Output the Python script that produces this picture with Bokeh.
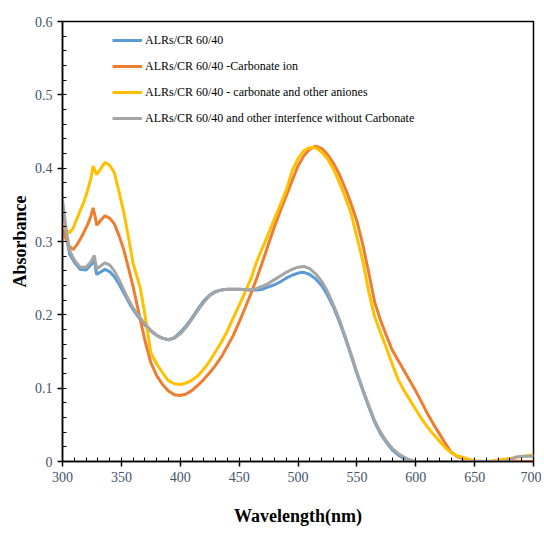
from bokeh.plotting import figure
from bokeh.models import FixedTicker, Legend, LegendItem, Range1d
from bokeh.embed import file_html
from bokeh.resources import INLINE

series_names = [
    "ALRs/CR 60/40",
    "ALRs/CR 60/40 -Carbonate ion",
    "ALRs/CR 60/40 - carbonate and other aniones",
    "ALRs/CR 60/40 and other interfence without Carbonate",
]
series_colors = ["#5B9BD5", "#ED7D31", "#FFC000", "#A5A5A5"]

x_ticks = [300, 350, 400, 450, 500, 550, 600, 650, 700]
y_ticks = [0, 0.1, 0.2, 0.3, 0.4, 0.5, 0.6]
y_tick_labels = ["0", "0.1", "0.2", "0.3", "0.4", "0.5", "0.6"]

wl_blue = [300, 303, 306, 310, 315, 320, 324, 327, 329, 332, 336, 340, 344, 348, 352, 356, 360, 365,
           370, 375, 380, 385, 390, 395, 400, 405, 410, 415, 420, 425, 430, 435, 440, 450, 460, 465,
           470, 475, 480, 485, 490, 495, 500, 505, 510, 515, 520, 525, 530, 535, 540, 545, 550, 555,
           560, 565, 570, 575, 580, 585, 590, 595, 600, 650, 700]
abs_blue = [0.345, 0.310, 0.283, 0.272, 0.262, 0.261, 0.268, 0.274, 0.255, 0.258, 0.262, 0.259, 0.252,
            0.242, 0.230, 0.218, 0.207, 0.196, 0.186, 0.178, 0.172, 0.168, 0.166, 0.169, 0.176, 0.185,
            0.196, 0.208, 0.219, 0.227, 0.232, 0.234, 0.235, 0.235, 0.234, 0.234, 0.235, 0.238, 0.241,
            0.245, 0.250, 0.254, 0.257, 0.258, 0.255, 0.249, 0.240, 0.227, 0.211, 0.191, 0.169, 0.145,
            0.120, 0.097, 0.075, 0.054, 0.038, 0.026, 0.016, 0.009, 0.004, 0.001, 0.0, 0.0, 0.0]

wl_orange = [300, 303, 306, 309, 312, 315, 318, 321, 324, 326, 328, 329, 332, 336, 340, 344, 348, 352,
             356, 360, 366, 370, 375, 380, 385, 390, 395, 400, 405, 410, 415, 420, 425, 430, 435, 440,
             445, 450, 455, 460, 465, 470, 475, 480, 485, 490, 495, 500, 505, 510, 515, 520, 525, 530,
             535, 540, 545, 550, 555, 560, 565, 570, 575, 580, 585, 590, 595, 600, 605, 610, 615, 620,
             625, 630, 635, 640, 645, 650, 670, 680, 690, 700]
abs_orange = [0.316, 0.303, 0.293, 0.289, 0.295, 0.303, 0.312, 0.322, 0.334, 0.346, 0.332, 0.322, 0.328,
              0.335, 0.332, 0.324, 0.308, 0.289, 0.264, 0.238, 0.194, 0.165, 0.135, 0.117, 0.105, 0.096,
              0.091, 0.090, 0.092, 0.097, 0.104, 0.112, 0.121, 0.131, 0.143, 0.157, 0.172, 0.190, 0.209,
              0.229, 0.250, 0.273, 0.297, 0.320, 0.342, 0.362, 0.383, 0.403, 0.417, 0.426, 0.430, 0.427,
              0.419, 0.407, 0.392, 0.373, 0.352, 0.328, 0.296, 0.258, 0.218, 0.193, 0.172, 0.152, 0.138,
              0.124, 0.110, 0.096, 0.081, 0.065, 0.051, 0.038, 0.025, 0.013, 0.007, 0.004, 0.002, 0.0,
              0.0, 0.001, 0.0, 0.0]

wl_yellow = [300, 303, 306, 309, 312, 315, 318, 321, 324, 326, 328, 329, 332, 336, 340, 344, 348, 352,
             356, 360, 366, 370, 375, 380, 385, 390, 395, 400, 405, 410, 415, 420, 425, 430, 435, 440,
             445, 450, 455, 460, 465, 470, 475, 480, 485, 490, 495, 500, 505, 510, 515, 520, 525, 530,
             535, 540, 545, 550, 555, 560, 565, 570, 575, 580, 585, 590, 595, 600, 605, 610, 615, 620,
             625, 630, 635, 640, 645, 650, 660, 670, 680, 690, 700]
abs_yellow = [0.328, 0.315, 0.312, 0.318, 0.330, 0.342, 0.353, 0.368, 0.385, 0.403, 0.395, 0.391, 0.398,
              0.408, 0.404, 0.394, 0.368, 0.340, 0.306, 0.270, 0.237, 0.200, 0.148, 0.133, 0.121, 0.110,
              0.106, 0.105, 0.107, 0.111, 0.117, 0.126, 0.137, 0.150, 0.163, 0.178, 0.196, 0.213, 0.231,
              0.249, 0.273, 0.292, 0.311, 0.331, 0.350, 0.370, 0.396, 0.413, 0.424, 0.428, 0.428, 0.422,
              0.413, 0.399, 0.381, 0.361, 0.339, 0.306, 0.274, 0.232, 0.198, 0.176, 0.155, 0.133, 0.112,
              0.097, 0.084, 0.071, 0.058, 0.047, 0.037, 0.028, 0.019, 0.012, 0.008, 0.006, 0.003, 0.001,
              0.0, 0.002, 0.004, 0.007, 0.009]

wl_gray = [300, 303, 306, 310, 315, 320, 324, 327, 329, 332, 336, 340, 344, 348, 352, 356, 360, 365,
           370, 375, 380, 385, 390, 395, 400, 405, 410, 415, 420, 425, 430, 435, 440, 450, 460, 465,
           470, 475, 480, 485, 490, 495, 500, 505, 510, 515, 520, 525, 530, 535, 540, 545, 550, 555,
           560, 565, 570, 575, 580, 585, 590, 595, 600, 650, 675, 680, 685, 690, 700]
abs_gray = [0.357, 0.318, 0.288, 0.275, 0.265, 0.265, 0.272, 0.281, 0.263, 0.266, 0.271, 0.268, 0.260,
            0.248, 0.234, 0.221, 0.209, 0.198, 0.188, 0.179, 0.172, 0.168, 0.166, 0.168, 0.174, 0.183,
            0.194, 0.206, 0.217, 0.226, 0.231, 0.234, 0.235, 0.235, 0.234, 0.236, 0.239, 0.243, 0.248,
            0.253, 0.258, 0.262, 0.265, 0.266, 0.263, 0.256, 0.246, 0.232, 0.214, 0.194, 0.171, 0.147,
            0.122, 0.099, 0.077, 0.056, 0.040, 0.028, 0.018, 0.011, 0.006, 0.002, 0.0, 0.0, 0.0, 0.002,
            0.006, 0.007, 0.007]

serif = "Liberation Serif"
tick_color = "#44546A"

p = figure(frame_width=471, frame_height=440, width=541, height=530,
           min_border_left=62, min_border_right=8, min_border_top=21, min_border_bottom=69,
           output_backend="svg", toolbar_location=None,
           x_range=Range1d(300, 700), y_range=Range1d(0, 0.6))

p.xgrid.visible = False
p.ygrid.visible = False
p.outline_line_color = "black"
p.outline_line_width = 1.5
p.background_fill_color = "white"
p.border_fill_color = "white"

renderers = []
for wl, ab, col in [(wl_blue, abs_blue, series_colors[0]),
                    (wl_orange, abs_orange, series_colors[1]),
                    (wl_yellow, abs_yellow, series_colors[2]),
                    (wl_gray, abs_gray, series_colors[3])]:
    r = p.line(wl, ab, line_color=col, line_width=3)
    renderers.append(r)

xt = FixedTicker(ticks=x_ticks, minor_ticks=list(range(300, 701, 10)))
yt = FixedTicker(ticks=y_ticks, minor_ticks=[round(i * 0.02, 2) for i in range(31)])
p.xaxis.ticker = xt
p.yaxis.ticker = yt
p.yaxis.major_label_overrides = {t: l for t, l in zip(y_ticks, y_tick_labels)}

for ax in (p.xaxis[0], p.yaxis[0]):
    ax.axis_line_color = "black"
    ax.axis_line_width = 1.5
    ax.major_tick_line_color = "black"
    ax.major_tick_line_width = 1.5
    ax.minor_tick_line_color = "black"
    ax.minor_tick_line_width = 1
    ax.major_tick_out = 5
    ax.major_tick_in = 0
    ax.minor_tick_in = 4
    ax.minor_tick_out = 0
    ax.major_label_text_font = serif
    ax.major_label_text_font_size = "14px"
    ax.major_label_text_color = tick_color
    ax.axis_label_text_font = serif
    ax.axis_label_text_font_style = "bold"
    ax.axis_label_text_font_size = "18px"
    ax.axis_label_text_color = "black"

p.xaxis.axis_label = "Wavelength(nm)"
p.yaxis.axis_label = "Absorbance"
p.xaxis.major_label_standoff = 5
p.yaxis.major_label_standoff = 5
p.xaxis.axis_label_standoff = 21
p.yaxis.axis_label_standoff = 2

legend = Legend(items=[LegendItem(label=n, renderers=[r]) for n, r in zip(series_names, renderers)],
                location=(50, 333), orientation="vertical",
                padding=0, margin=0, spacing=6,
                glyph_width=30, glyph_height=20, label_height=20, label_standoff=3,
                label_text_font=serif, label_text_font_size="12px", label_text_color="black",
                border_line_color=None, background_fill_alpha=0)
p.add_layout(legend)

open("out.html", "w").write(file_html(p, INLINE))
